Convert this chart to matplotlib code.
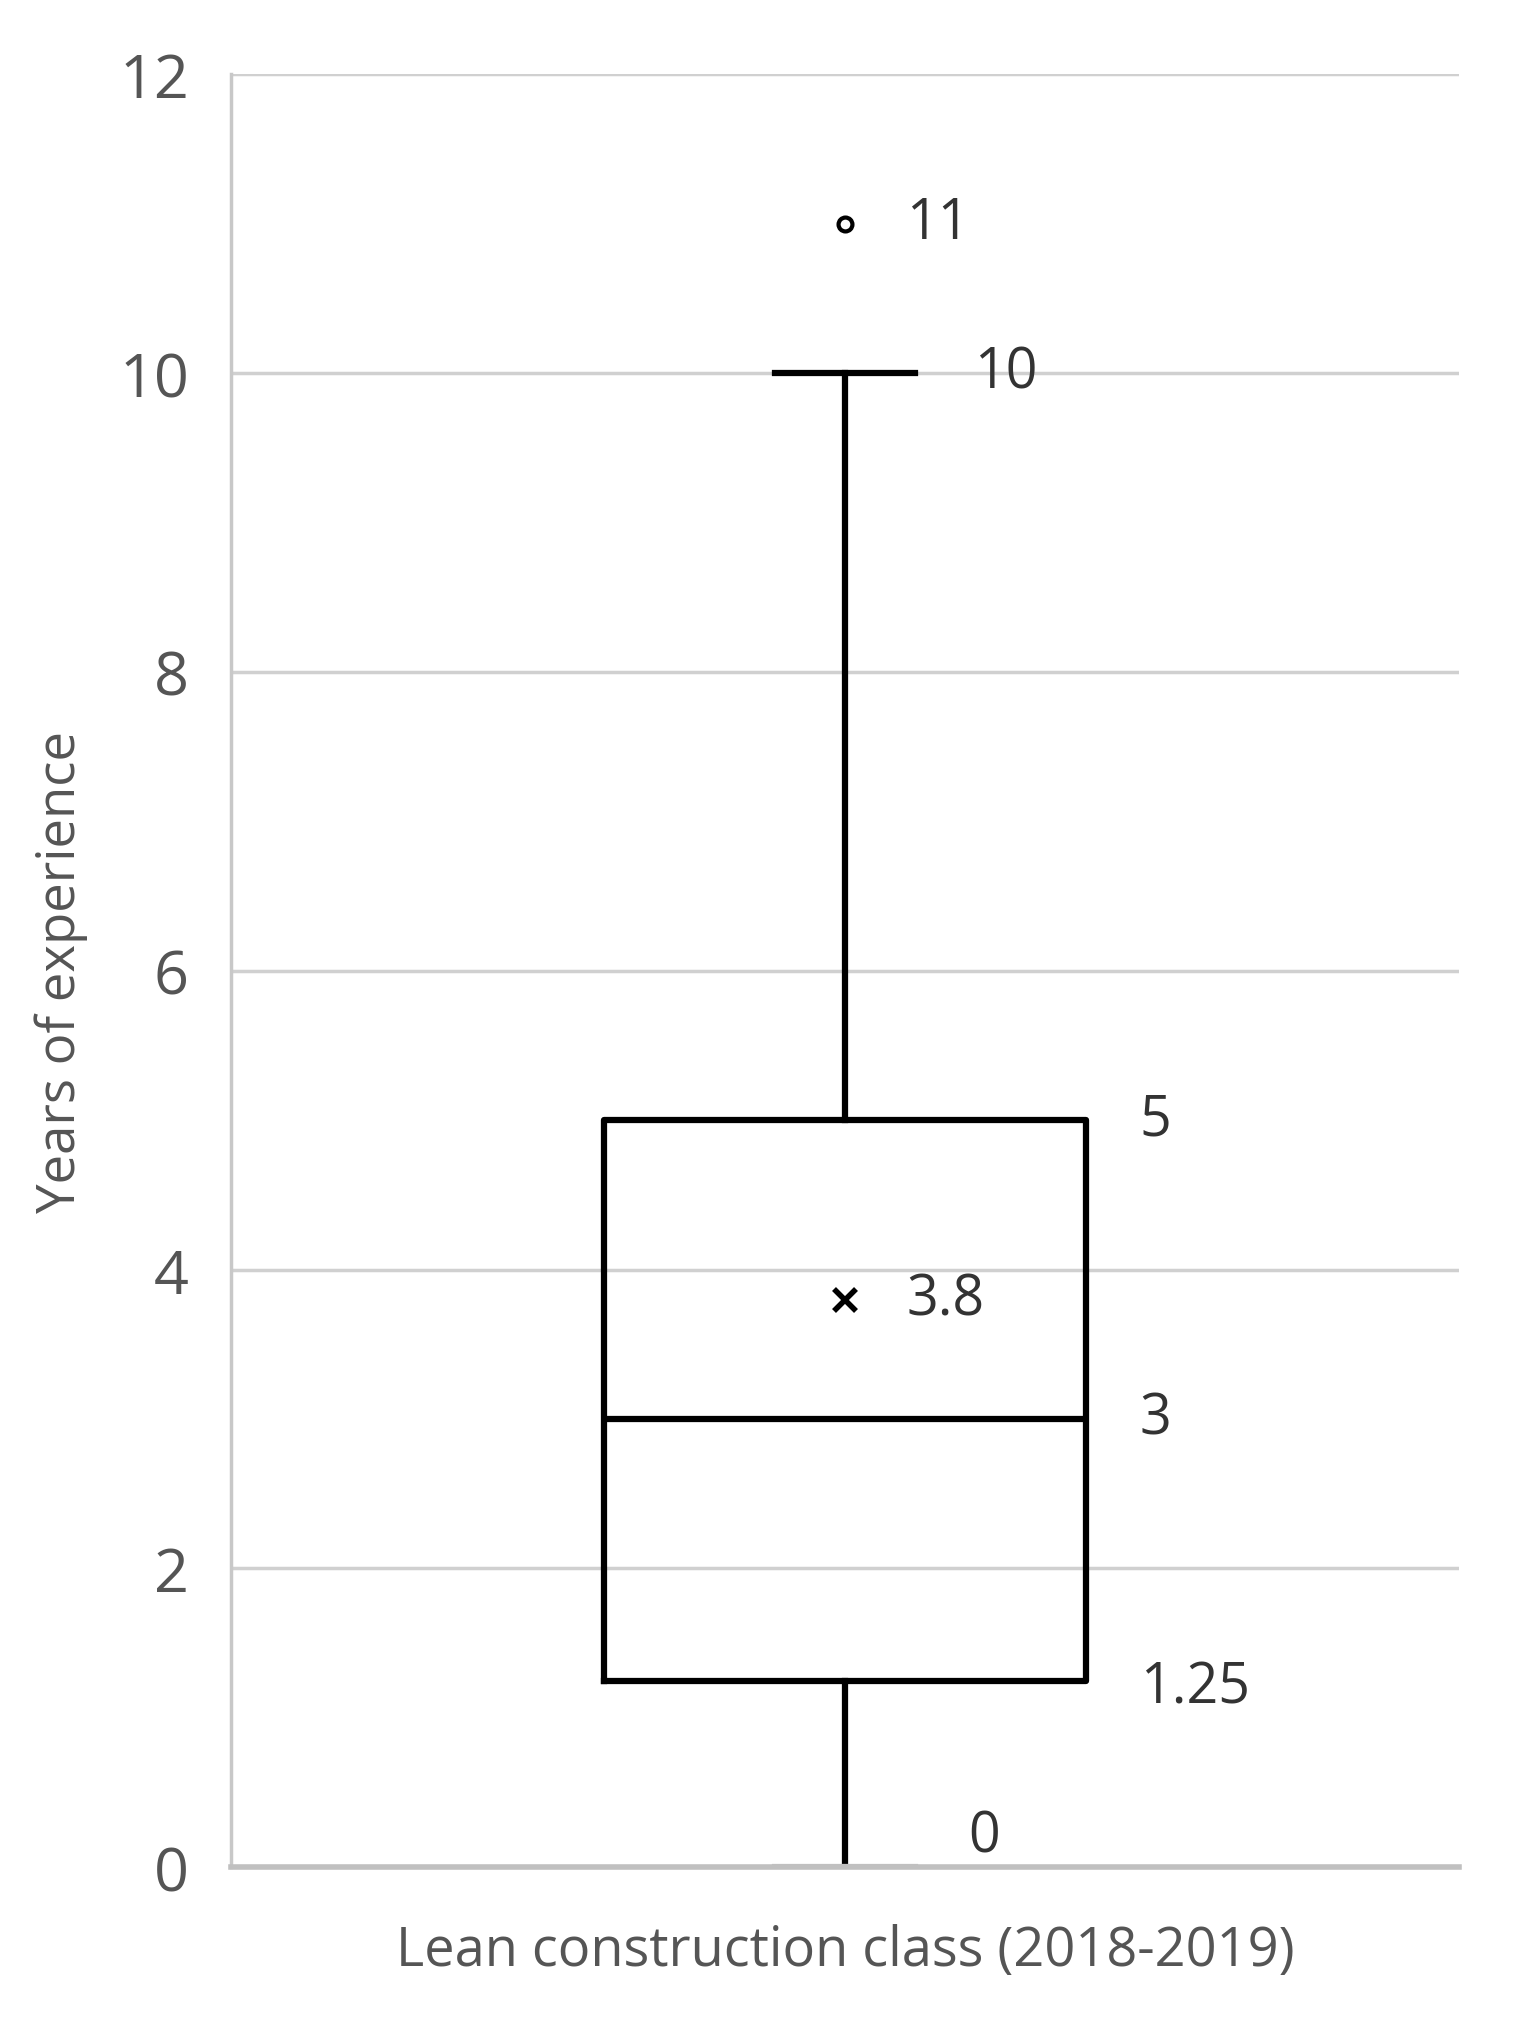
import matplotlib.pyplot as plt

plt.rcParams['font.family'] = ['Open Sans', 'DejaVu Sans']

# five-number summary
whislo = 0
q1 = 1.25
med = 3
q3 = 5
whishi = 10
mean = 3.8
fliers = [11]
xlabel = 'Lean construction class (2018-2019)'
ylabel = 'Years of experience'
yticks = [0, 2, 4, 6, 8, 10, 12]

fig = plt.figure(figsize=(15.17, 20.33), dpi=100)
ax = fig.add_axes([0.152, 0.081, 0.810, 0.882])

stats = [dict(whislo=whislo, q1=q1, med=med, q3=q3, whishi=whishi,
              mean=mean, fliers=fliers)]
lw = 4.5
parts = ax.bxp(stats, positions=[1], widths=0.786, showmeans=True,
               boxprops=dict(color='black', linewidth=lw),
               medianprops=dict(color='black', linewidth=lw),
               whiskerprops=dict(color='black', linewidth=lw),
               capprops=dict(color='black', linewidth=lw),
               capwidths=0.228,
               meanprops=dict(marker='x', markeredgecolor='black', markersize=16,
                              markeredgewidth=4),
               flierprops=dict(marker='o', markerfacecolor='white',
                               markeredgecolor='black', markersize=10,
                               markeredgewidth=3),
               zorder=3)
# lower cap sits on the axis and shows up grey
parts['caps'][0].set_color('#c0c0c0')
parts['caps'][0].set_zorder(5)

ax.set_xlim(0, 2)
ax.set_ylim(0, 12)
ax.set_yticks(yticks)
ax.set_xticks([])
ax.tick_params(axis='y', length=0, labelsize=44, labelcolor='#555555', pad=30)
ax.yaxis.grid(True, color='#d0d0d0', linewidth=2.5)
ax.set_axisbelow(True)
for s in ['top', 'right']:
    ax.spines[s].set_visible(False)
ax.spines['left'].set_color('#c8c8c8')
ax.spines['left'].set_linewidth(2.5)
ax.spines['bottom'].set_color('#c0c0c0')
ax.spines['bottom'].set_linewidth(4)
ax.spines['bottom'].set_zorder(4)

ax.set_ylabel(ylabel, fontsize=38, color='#555555', labelpad=22)
ax.set_xlabel(xlabel, fontsize=39, color='#555555', labelpad=40)

# value labels
fs = 40
c = '#333333'
ax.text(1.1, 11, '11', fontsize=fs, color=c, va='center')
ax.text(1.21, 10, '10', fontsize=fs, color=c, va='center')
ax.text(1.48, 5, '5', fontsize=fs, color=c, va='center')
ax.text(1.1, mean, '3.8', fontsize=fs, color=c, va='center')
ax.text(1.48, med, '3', fontsize=fs, color=c, va='center')
ax.text(1.48, q1 - 0.05, '1.25', fontsize=fs, color=c, va='center')
ax.text(1.2, 0.2, '0', fontsize=fs, color=c, va='center')

fig.savefig('out.png', dpi=100)
